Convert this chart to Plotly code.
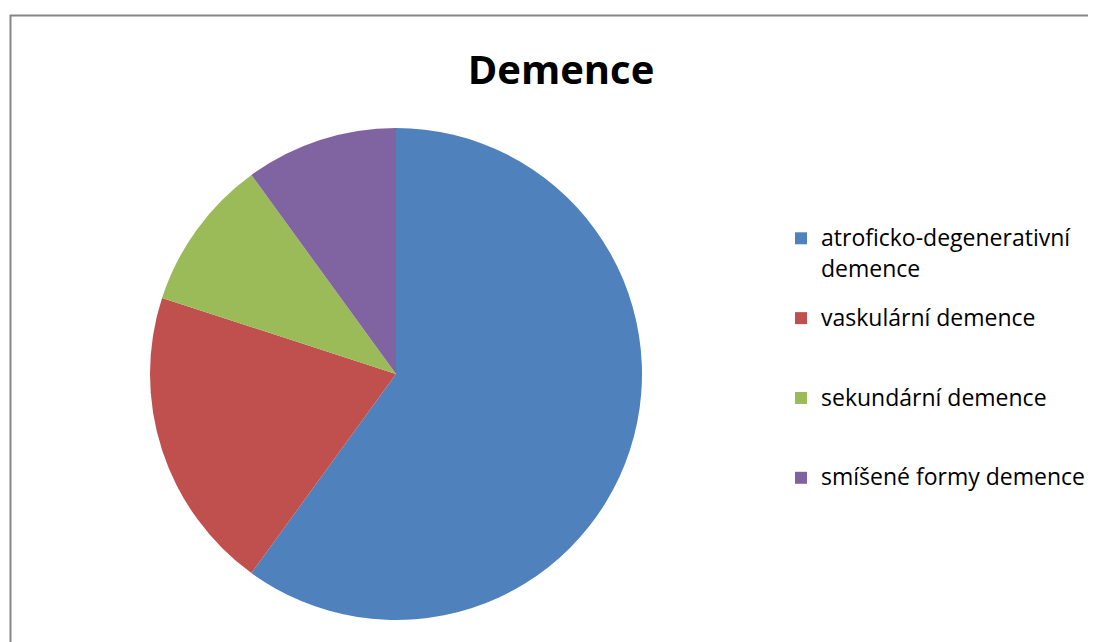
import plotly.graph_objects as go

labels = ["atroficko-degenerativní<br>demence", "vaskulární demence", "sekundární demence", "smíšené formy demence"]
values = [60, 20, 10, 10]
colors = ["#4F81BD", "#C0504D", "#9BBB59", "#8064A2"]
title = "Demence"

W, H = 1096, 642
OFF = 8  # page body margin


def px(x):
    return (x - OFF) / W


def py(y):
    return 1 - (y - OFF) / H


def styled(lab):
    lines = lab.split("<br>")
    out = []
    for i, ln in enumerate(lines):
        extra = "; baseline-shift:-5px" if i > 0 else ""
        out.append('<span style="font-size:23px' + extra + '">' + ln + "</span>")
    while len(out) < 3:
        out.append(" ")
    return "<br>".join(out)


fig = go.Figure(go.Pie(
    labels=[styled(l) for l in labels], values=values, sort=False, direction="clockwise", rotation=0,
    marker=dict(colors=colors, line=dict(width=0)), textinfo="none",
    hoverinfo="label+value+percent",
    domain=dict(x=[px(150), px(642)], y=[py(620), py(128)]),
))

fig.update_layout(
    width=W, height=H, margin=dict(l=0, r=0, t=0, b=0),
    paper_bgcolor="white", plot_bgcolor="white",
    title=dict(text="<b>" + title + "</b>", x=px(561), xanchor="center", y=py(70), yanchor="middle",
               font=dict(family="Open Sans", size=40, color="black")),
    legend=dict(x=px(781), xanchor="left", y=py(219), yanchor="top", valign="top",
                font=dict(family="Open Sans", size=19.7, color="black"), bgcolor="rgba(0,0,0,0)"),
    shapes=[
        dict(type="line", xref="paper", yref="paper", x0=px(10), x1=1.0, y0=py(15.5), y1=py(15.5),
             line=dict(color="#868686", width=2)),
        dict(type="line", xref="paper", yref="paper", x0=px(10.5), x1=px(10.5), y0=0, y1=py(15),
             line=dict(color="#868686", width=2)),
    ],
)

fig.write_html("out.html")
